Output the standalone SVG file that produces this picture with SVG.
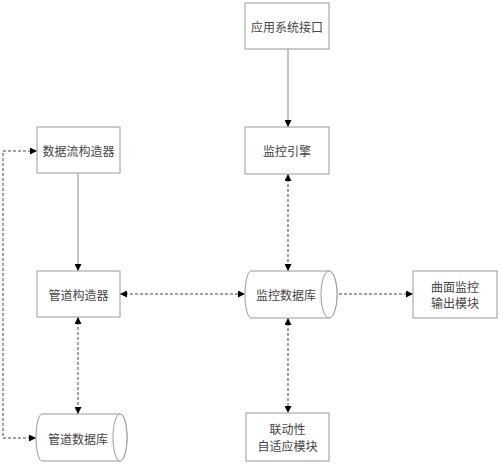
<svg xmlns="http://www.w3.org/2000/svg" width="500" height="465" viewBox="0 0 500 465">
<style>
.box{fill:#fff;stroke:#999;stroke-width:1}
.t{font-family:"Noto Sans CJK SC","Noto Sans CJK JP",sans-serif;font-size:12px;fill:#444;text-anchor:middle;dominant-baseline:central}
.s{stroke:#888;stroke-width:1;fill:none}
.d{stroke:#444;stroke-width:1;fill:none;stroke-dasharray:3,2}
</style>
<defs>
<marker id="a" viewBox="0 0 10 10" refX="10" refY="5" markerWidth="9" markerHeight="7" markerUnits="userSpaceOnUse" orient="auto-start-reverse">
<path d="M0,0 L10,5 L0,10 z" fill="#000"/>
</marker>
</defs>
<rect width="500" height="465" fill="#fff"/>
<g id="connectors">
<line class="s" x1="288" y1="49" x2="288" y2="127" marker-end="url(#a)"/>
<line class="d" x1="288" y1="174" x2="288" y2="271" marker-start="url(#a)" marker-end="url(#a)"/>
<line class="s" x1="78" y1="173" x2="78" y2="271" marker-end="url(#a)"/>
<line class="d" x1="120" y1="294" x2="245" y2="294" marker-start="url(#a)" marker-end="url(#a)"/>
<line class="d" x1="78" y1="317" x2="78" y2="414" marker-start="url(#a)" marker-end="url(#a)"/>
<line class="d" x1="329" y1="294" x2="413" y2="294" marker-end="url(#a)"/>
<line class="d" x1="288" y1="318" x2="288" y2="413" marker-start="url(#a)" marker-end="url(#a)"/>
<polyline class="d" points="36,438 3,438 3,151 37,151" marker-start="url(#a)" marker-end="url(#a)"/>
</g>
<g id="app-interface">
<rect class="box" x="245" y="3" width="84" height="46"/>
<text class="t" x="287" y="26">应用系统接口</text>
</g>
<g id="monitor-engine">
<rect class="box" x="245" y="127" width="84" height="47"/>
<text class="t" x="287" y="150.5">监控引擎</text>
</g>
<g id="dataflow-builder">
<rect class="box" x="37" y="127" width="83" height="46"/>
<text class="t" x="78.5" y="150">数据流构造器</text>
</g>
<g id="pipeline-builder">
<rect class="box" x="37" y="271" width="83" height="46"/>
<text class="t" x="78.5" y="294">管道构造器</text>
</g>
<g id="pipeline-db">
<path class="box" d="M42,414 L120,414 A7,23.5 0 0 1 120,461 L42,461 A6,23.5 0 0 1 42,414 z"/>
<ellipse class="box" cx="120" cy="437.5" rx="7" ry="23.5"/>
<text class="t" x="78" y="438">管道数据库</text>
</g>
<g id="monitor-db">
<path class="box" d="M251,271 L329,271 A8,23.5 0 0 1 329,318 L251,318 A6,23.5 0 0 1 251,271 z"/>
<ellipse class="box" cx="329" cy="294.5" rx="8" ry="23.5"/>
<text class="t" x="286" y="294">监控数据库</text>
</g>
<g id="surface-output">
<rect class="box" x="413" y="271" width="84" height="47"/>
<text class="t" x="455" y="286">曲面监控</text>
<text class="t" x="455" y="302.5">输出模块</text>
</g>
<g id="linkage-adaptive">
<rect class="box" x="246" y="413" width="83" height="48"/>
<text class="t" x="287.5" y="428.5">联动性</text>
<text class="t" x="287.5" y="445.5">自适应模块</text>
</g>
</svg>
